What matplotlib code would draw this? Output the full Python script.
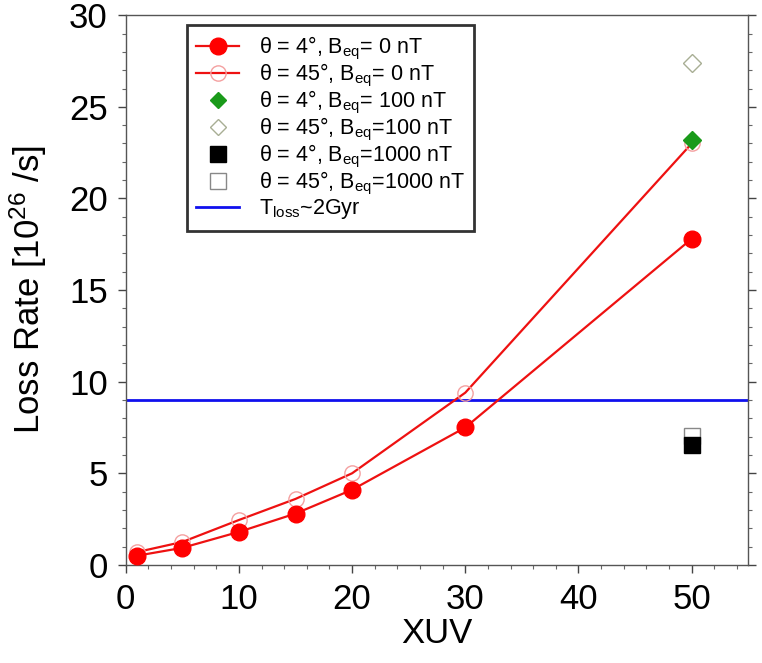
import matplotlib
matplotlib.use('Agg')
import matplotlib.pyplot as plt
from matplotlib.lines import Line2D

plt.rcParams['font.family'] = ['Liberation Sans', 'DejaVu Sans']
plt.rcParams['mathtext.fontset'] = 'custom'
plt.rcParams['mathtext.rm'] = 'Liberation Sans'
plt.rcParams['mathtext.it'] = 'Liberation Sans:italic'

# data
xuv = [1, 5, 10, 15, 20, 30, 50]
rate_4deg_0nT = [0.5, 0.93, 1.8, 2.8, 4.1, 7.5, 17.8]
rate_45deg_0nT = [0.7, 1.25, 2.45, 3.6, 5.0, 9.4, 23.0]
xuv_single = [50]
rate_4deg_100nT = [23.2]
rate_45deg_100nT = [27.4]
rate_4deg_1000nT = [6.55]
rate_45deg_1000nT = [7.05]
loss_2gyr = 9.0

fig = plt.figure(figsize=(7.62, 6.63), dpi=100)
ax = fig.add_axes([0.165, 0.148, 0.817, 0.829])

ax.plot(xuv, rate_45deg_0nT, '-', color='#ee1111', lw=1.6, marker='o', ms=11,
        mfc='none', mec='#f4a0a0', mew=1.0, zorder=3)
ax.plot(xuv, rate_4deg_0nT, '-', color='#ee1111', lw=1.6, marker='o', ms=12,
        mfc='red', mec='red', zorder=4)
ax.axhline(loss_2gyr, color='#1010ee', lw=2, zorder=2)
ax.plot(xuv_single, rate_45deg_100nT, linestyle='none', marker='D', ms=9,
        mfc='white', mec='#a8ae94', mew=1.0, zorder=5)
ax.plot(xuv_single, rate_4deg_100nT, linestyle='none', marker='D', ms=9,
        mfc='#1a9a1a', mec='#1a9a1a', zorder=6)
ax.plot(xuv_single, rate_45deg_1000nT, linestyle='none', marker='s', ms=12,
        mfc='white', mec='#888888', mew=1.0, zorder=5)
ax.plot(xuv_single, rate_4deg_1000nT, linestyle='none', marker='s', ms=12,
        mfc='black', mec='black', zorder=6)

ax.set_xlim(0, 55)
ax.set_ylim(0, 30)
ax.set_xticks([0, 10, 20, 30, 40, 50])
ax.set_yticks([0, 5, 10, 15, 20, 25, 30])
ax.set_xticks(range(0, 56, 2), minor=True)
ax.set_yticks(range(0, 31, 1), minor=True)
ax.tick_params(which='major', direction='out', length=6, width=1, labelsize=25,
               color='#444444', pad=7)
ax.tick_params(which='minor', direction='out', length=3, width=0.8, color='#666666')
ax.tick_params(right=True, which='both')
for s in ax.spines.values():
    s.set_color('#555555')
    s.set_linewidth(1)

ax.set_xlabel('XUV', fontsize=25, labelpad=1)
ax.set_ylabel('Loss Rate [10$^{26}$ /s]', fontsize=25, labelpad=14)

handles = [
    Line2D([], [], color='#ee1111', lw=1.6, marker='o', ms=12, mfc='red', mec='red'),
    Line2D([], [], color='#ee1111', lw=1.6, marker='o', ms=11, mfc='none', mec='#f4a0a0'),
    Line2D([], [], linestyle='none', marker='D', ms=8, mfc='#1a9a1a', mec='#1a9a1a'),
    Line2D([], [], linestyle='none', marker='D', ms=8, mfc='white', mec='#a8ae94'),
    Line2D([], [], linestyle='none', marker='s', ms=11, mfc='black', mec='black'),
    Line2D([], [], linestyle='none', marker='s', ms=11, mfc='white', mec='#888888'),
    Line2D([], [], color='#1010ee', lw=2),
]
labels = [
    'θ = 4°, B$_{\\rm eq}$= 0 nT',
    'θ = 45°, B$_{\\rm eq}$= 0 nT',
    'θ = 4°, B$_{\\rm eq}$= 100 nT',
    'θ = 45°, B$_{\\rm eq}$=100 nT',
    'θ = 4°, B$_{\\rm eq}$=1000 nT',
    'θ = 45°, B$_{\\rm eq}$=1000 nT',
    'T$_{\\rm loss}$~2Gyr',
]
leg = ax.legend(handles, labels, loc='upper left', bbox_to_anchor=(0.098, 0.982),
                fontsize=15.5, frameon=True, fancybox=False, edgecolor='black',
                handlelength=2.0, labelspacing=0.0, borderpad=0.45, handletextpad=0.9,
                borderaxespad=0)
leg.get_frame().set_linewidth(2)

fig.savefig('out.png', dpi=100)
